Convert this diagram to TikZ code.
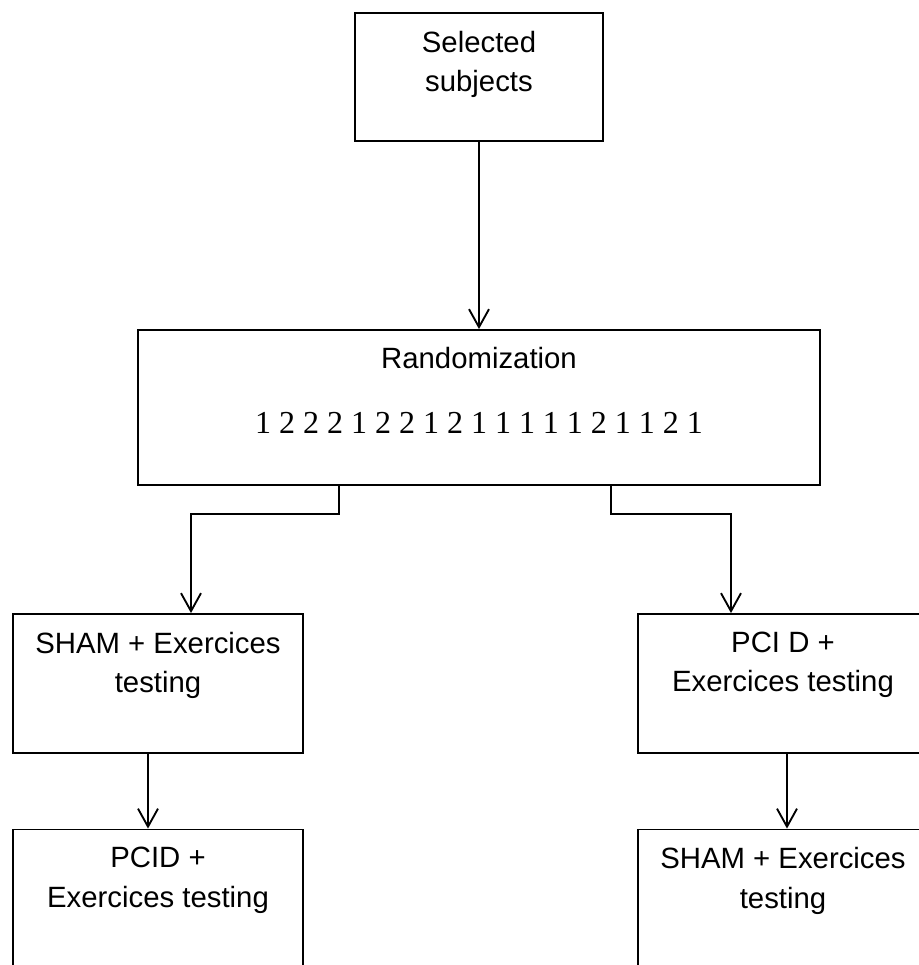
\documentclass[tikz,border=0pt]{standalone}
\usepackage{fontspec}
\setmainfont{Liberation Sans}
\newfontfamily\seqfont{Liberation Serif}
\usepackage{tikz}
\usetikzlibrary{arrows.meta}
\usetikzlibrary{positioning}

\begin{document}
\begin{tikzpicture}[
        x=0.75pt, y=-0.75pt,
        every node/.style={font=\fontsize{22}{29.5}\selectfont},
        flowbox/.style={rectangle,draw,line width=1.4pt,inner sep=0pt,minimum width=217.5pt,minimum height=104.25pt},
        boxlabel/.style={anchor=north,align=center,inner sep=0pt,yshift=-14pt,execute at begin node=\strut},
        flowarrow/.style={line width=1.4pt,-{Straight Barb[length=13.5pt,width=15pt]}},
        ]
        \useasboundingbox (0,0) rectangle (919,965);
        \clip (0,0) rectangle (919,965);

        \node[flowbox, minimum width=186pt, minimum height=96pt](subj) at (479,77){};
        \node[boxlabel](subj_txt) at (subj.north){Selected\\subjects};

        \node[flowbox, minimum width=511.5pt, minimum height=116.25pt](rand) at (479,407.5){};
        \node[boxlabel, yshift=5pt](rand_txt) at (rand.north){Randomization};
        \node[anchor=base, font=\seqfont\fontsize{24}{29}\selectfont](rand_seq) at ([yshift=-78.4pt]rand.north){1 2 2 2 1 2 2 1 2 1 1 1 1 1 2 1 1 2 1};

        \node[flowbox](sham_a) at (158,683.5){};
        \node[boxlabel](sham_a_txt) at (sham_a.north){SHAM + Exercices\\testing};
        \node[flowbox](pcid_a) at (783,683.5){};
        \node[boxlabel](pcid_a_txt) at (pcid_a.north){PCI D +\\Exercices testing};

        \node[flowbox](pcid_b) at (158,899){};
        \node[boxlabel](pcid_b_txt) at (pcid_b.north){PCID +\\Exercices testing};
        \node[flowbox](sham_b) at (783,899){};
        \node[boxlabel](sham_b_txt) at (sham_b.north){SHAM + Exercices\\testing};

        \draw[flowarrow] (subj.south) -- (rand.north);
        \draw[flowarrow] ([xshift=-105pt]rand.south) -- ++(0,28) -| ([xshift=24.75pt]sham_a.north);
        \draw[flowarrow] ([xshift=99pt]rand.south) -- ++(0,28) -| ([xshift=-39pt]pcid_a.north);
        \draw[flowarrow] ([xshift=-7.5pt]sham_a.south) -- ([xshift=-7.5pt]pcid_b.north);
        \draw[flowarrow] ([xshift=3pt]pcid_a.south) -- ([xshift=3pt]sham_b.north);

        \end{tikzpicture}
\end{document}
